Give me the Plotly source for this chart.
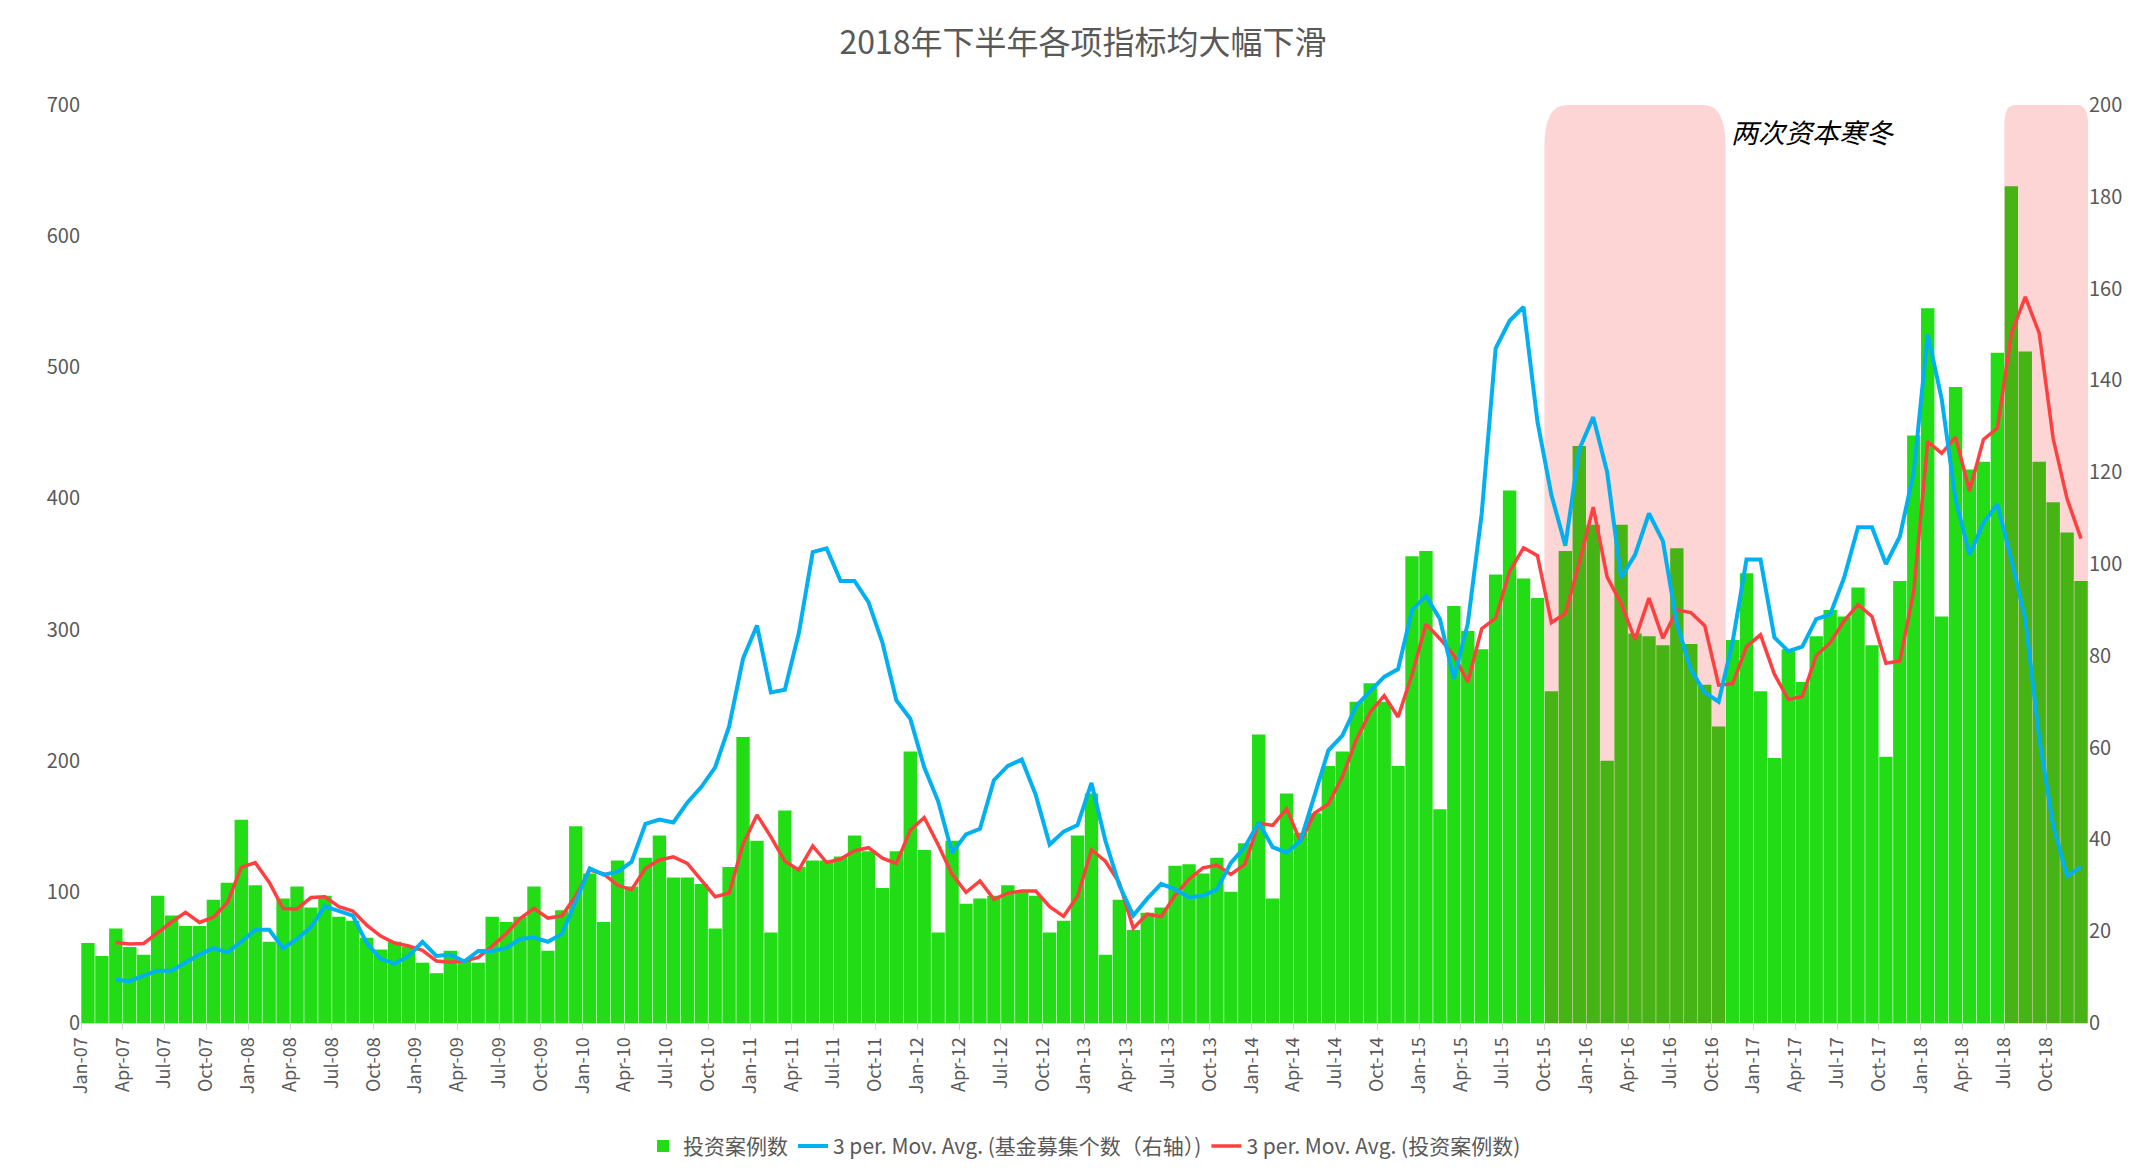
import pandas as pd
import plotly.graph_objects as go

months = pd.date_range("2007-01-01", "2018-12-01", freq="MS")
month_labels = [d.strftime("%b-%y") for d in months]

# 投资案例数 (left axis), Jan-07 .. Dec-18
deals = [
    61, 51, 72, 58, 52, 97, 82, 74, 74, 94, 107, 155,
    105, 62, 95, 104, 88, 97, 81, 78, 65, 56, 62, 58,
    46, 38, 55, 49, 46, 81, 77, 81, 104, 55, 86, 150,
    114, 77, 124, 104, 126, 143, 111, 111, 106, 72, 119, 218,
    139, 69, 162, 119, 124, 124, 127, 143, 131, 103, 131, 207,
    132, 69, 139, 91, 95, 97, 105, 100, 97, 69, 78, 143,
    175, 52, 94, 71, 84, 88, 120, 121, 114, 126, 100, 137,
    220, 95, 175, 145, 160, 196, 207, 245, 259, 245, 196, 356,
    360, 163, 318, 299, 285, 342, 406, 339, 324, 253, 360, 440,
    380, 200, 380, 297, 295, 288, 362, 289, 258, 226, 292, 343,
    253, 202, 285, 260, 295, 315, 310, 332, 288, 203, 337, 448,
    545, 310, 485, 422, 428, 511, 638, 512, 428, 397, 374, 337,
]

# 3 per. Mov. Avg. (基金募集个数, right axis), starts Mar-07
fund_ma = [
    None, None, 9.4, 9.1, 10.3, 11.4, 11.4, 13.1, 14.9, 16.3, 15.4, 17.7,
    20.3, 20.3, 16.3, 18.3, 20.9, 25.4, 24.3, 23.4, 17.4, 14.0, 12.9, 14.6,
    17.7, 14.6, 14.9, 13.4, 15.7, 15.7, 16.3, 18.3, 18.6, 17.7, 19.4, 26.6,
    33.7, 32.3, 32.9, 35.1, 43.4, 44.3, 43.7, 48.0, 51.4, 55.7, 64.6, 79.4,
    86.6, 72.0, 72.6, 84.9, 102.6, 103.4, 96.3, 96.3, 91.7, 82.9, 70.3, 66.3,
    55.7, 48.3, 37.1, 41.1, 42.3, 52.9, 56.0, 57.4, 49.7, 38.9, 41.7, 43.1,
    52.3, 39.7, 30.0, 23.4, 27.1, 30.3, 29.1, 27.4, 27.7, 29.1, 34.9, 38.3,
    43.7, 38.3, 37.1, 39.7, 49.4, 59.4, 62.6, 69.1, 72.3, 75.4, 77.1, 90.0,
    93, 88, 75, 87, 111, 147, 153, 156, 131, 115, 104, 125,
    132, 120, 97, 102, 111, 105, 87, 77, 72, 70, 83, 101,
    101, 84, 81, 82, 88, 89, 97, 108, 108, 100, 106, 120,
    150, 136, 114, 102, 109, 113, 101, 88, 62, 43, 32, 34,
]

# 两次资本寒冬: Oct-15..Oct-16 and Jul-18..Dec-18
winters = [("2015-10-01", "2016-10-01"), ("2018-07-01", "2018-12-01")]

df = pd.DataFrame({"deals": deals, "fund_ma": fund_ma}, index=months)
df["deal_ma"] = df["deals"].rolling(3).mean()
x = list(range(len(df)))

in_winter = [any(pd.Timestamp(a) <= d <= pd.Timestamp(b) for a, b in winters) for d in months]
bar_colors = ["#46B414" if w else "#22DD15" for w in in_winter]

fig = go.Figure()
fig.add_trace(go.Bar(x=x, y=df["deals"], name="投资案例数", marker_color=bar_colors,
                     marker_line_width=0))
fig.add_trace(go.Scatter(x=x, y=df["fund_ma"], name="3 per. Mov. Avg. (基金募集个数（右轴）)",
                         mode="lines", line=dict(color="#00B0F0", width=4), yaxis="y2"))
fig.add_trace(go.Scatter(x=x, y=df["deal_ma"], name="3 per. Mov. Avg. (投资案例数)",
                         mode="lines", line=dict(color="#FF4040", width=3.5)))

# pink rounded boxes behind the bars
for (a, b), top in zip(winters, [1.0, 1.0]):
    x0 = months.get_loc(pd.Timestamp(a)) - 0.5
    x1 = months.get_loc(pd.Timestamp(b)) + 0.5
    rx = 1.6 if x1 - x0 > 8 else 0.8
    ry = 0.045 if x1 - x0 > 8 else 0.02
    path = (f"M {x0+rx},0 L {x1-rx},0 Q {x1},0 {x1},{ry} L {x1},{top-ry} "
            f"Q {x1},{top} {x1-rx},{top} L {x0+rx},{top} Q {x0},{top} {x0},{top-ry} "
            f"L {x0},{ry} Q {x0},0 {x0+rx},0 Z")
    fig.add_shape(type="path", path=path, xref="x", yref="paper",
                  fillcolor="#FDD5D5", line_width=0, layer="below")

fig.add_annotation(text="<i>两次资本寒冬</i>", x=0.905, y=0.995, xref="paper", yref="paper",
                   showarrow=False, font=dict(size=27, color="#000000",
                                              family="Noto Sans CJK SC"))

tick_idx = x[::3]
axis_font = dict(size=20, color="#595959")
fig.update_layout(
    width=2150, height=1171,
    title=dict(text="2018年下半年各项指标均大幅下滑", x=0.5, y=0.98, xanchor="center",
               font=dict(size=32, color="#595959")),
    font=dict(family="Noto Sans CJK SC, Lato, sans-serif", color="#595959"),
    plot_bgcolor="white", paper_bgcolor="white",
    bargap=0.04,
    margin=dict(l=73, r=70, t=97, b=151),
    xaxis=dict(tickmode="array", tickvals=[i - 0.5 for i in tick_idx],
               ticktext=[month_labels[i] for i in tick_idx], tickangle=-90,
               range=[-0.5, len(x) - 0.5], showgrid=False, zeroline=False,
               showline=True, linecolor="#D9D9D9", ticks="outside", tickcolor="#D9D9D9",
               ticklen=6, tickfont=dict(size=18, color="#595959")),
    yaxis=dict(range=[0, 700], dtick=100, showgrid=False, zeroline=False,
               tickfont=axis_font, ticks=""),
    yaxis2=dict(range=[0, 200], dtick=20, overlaying="y", side="right", showgrid=False,
                zeroline=False, tickfont=axis_font),
    legend=dict(orientation="h", x=0.5, xanchor="center", y=-0.112, yanchor="top",
                font=dict(size=21, color="#595959")),
    showlegend=True,
)

fig.write_html("out.html")
